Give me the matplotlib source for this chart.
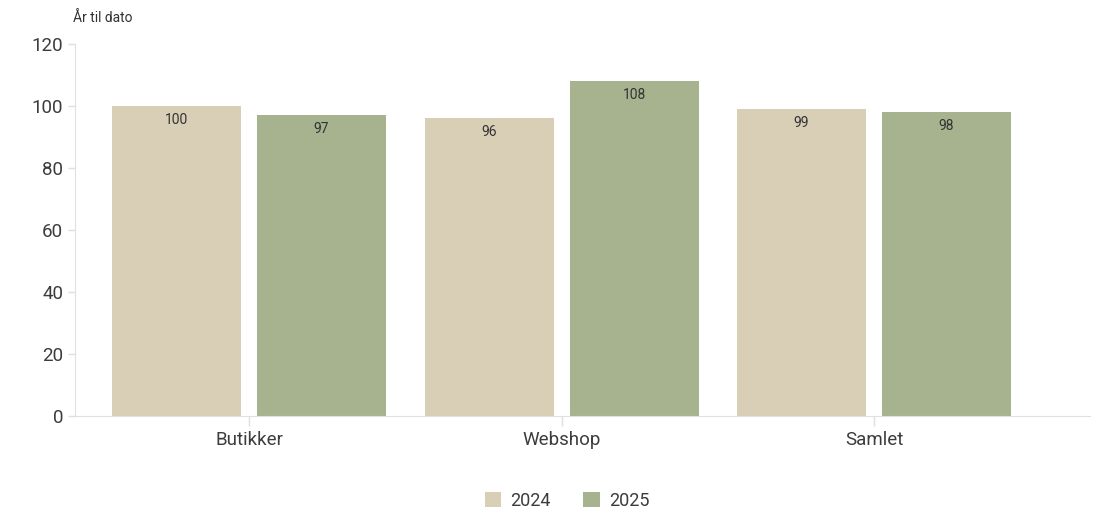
import matplotlib.pyplot as plt
import numpy as np

categories = ["Butikker", "Webshop", "Samlet"]
years = ["2024", "2025"]
values_2024 = [100, 96, 99]
values_2025 = [97, 108, 98]
yticks = [0, 20, 40, 60, 80, 100, 120]

plt.rcParams['font.family'] = ['Roboto', 'DejaVu Sans']

fig = plt.figure(figsize=(10.93, 5.15), dpi=100)
ax = fig.add_axes([0.0686, 0.192, 0.9284, 0.7226])

x = np.arange(len(categories))
w = 0.413
off = 0.232
colors = ["#d9cfb7", "#a6b38e"]
b1 = ax.bar(x - off, values_2024, w, color=colors[0], label=years[0])
b2 = ax.bar(x + off, values_2025, w, color=colors[1], label=years[1])

# value labels just inside the top of each bar
for bars, vals in ((b1, values_2024), (b2, values_2025)):
    for b, v in zip(bars, vals):
        ax.text(b.get_x() + b.get_width() / 2, v - 2.2, str(v),
                ha='center', va='top', fontsize=10, color='#333333')

ax.set_xlim(-0.557, 2.69)
ax.set_ylim(0, 120)
ax.set_yticks(yticks)
ax.set_xticks(x)
ax.set_xticklabels(categories)
ax.tick_params(axis='y', labelsize=13.5, colors='#e0e0e0', labelcolor='#3c3c3c', length=5, width=1)
ax.tick_params(axis='x', labelsize=13.5, colors='#e0e0e0', labelcolor='#3c3c3c', length=7, width=1, pad=4)
for s in ('top', 'right'):
    ax.spines[s].set_visible(False)
for s in ('left', 'bottom'):
    ax.spines[s].set_color('#e0e0e0')

fig.text(0.067, 0.965, "År til dato", fontsize=10, color='#333333', ha='left', va='center')

ax.legend(loc='upper center', bbox_to_anchor=(0.485, -0.16), ncol=2, frameon=False,
          prop={'size': 13}, handlelength=0.9, handleheight=0.9,
          columnspacing=1.8, handletextpad=0.5, labelcolor='#3c3c3c')

fig.savefig("out.png", dpi=100)
